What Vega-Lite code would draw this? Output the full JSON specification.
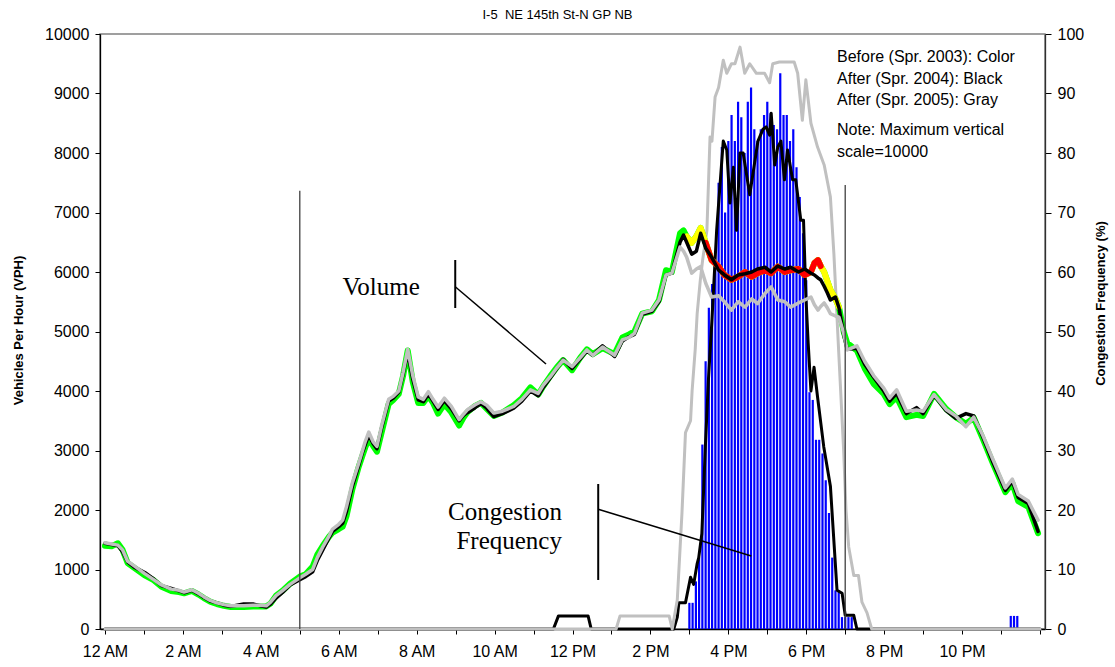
{
"$schema": "https://vega.github.io/schema/vega-lite/v6.json",
"width": 945,
"height": 595,
"autosize": {"type": "none"},
"padding": {"left": 100, "top": 34, "right": 70, "bottom": 38},
"background": "white",
"title": {"text": "I-5 \u00a0NE 145th St-N GP NB", "fontSize": 13, "font": "Liberation Sans", "fontWeight": "normal", "color": "#000", "anchor": "middle", "frame": "group", "dx": -15, "offset": 4},
"config": {
  "view": {"stroke": "#808080", "strokeWidth": 1.5},
  "axis": {"labelFont": "Liberation Sans", "titleFont": "Liberation Sans", "labelColor": "#000", "titleColor": "#000", "domainColor": "#000", "domainWidth": 1.3, "tickColor": "#000", "grid": false}
},
"datasets": {
  "vol": [
    {"t":0.0,"a":1400,"b":1440,"c":1450},
    {"t":0.17,"a":1390,"b":1420,"c":1430},
    {"t":0.33,"a":1440,"b":1400,"c":1410},
    {"t":0.45,"a":1330,"b":1300,"c":1330},
    {"t":0.58,"a":1110,"b":1130,"c":1140},
    {"t":0.75,"a":1030,"b":1040,"c":1060},
    {"t":1.02,"a":900,"b":950,"c":930},
    {"t":1.25,"a":820,"b":840,"c":830},
    {"t":1.45,"a":710,"b":730,"c":740},
    {"t":1.7,"a":640,"b":680,"c":670},
    {"t":1.9,"a":620,"b":640,"c":650},
    {"t":2.03,"a":600,"b":610,"c":620},
    {"t":2.23,"a":640,"b":650,"c":660},
    {"t":2.4,"a":580,"b":590,"c":600},
    {"t":2.54,"a":520,"b":530,"c":540},
    {"t":2.7,"a":460,"b":470,"c":480},
    {"t":2.87,"a":420,"b":440,"c":440},
    {"t":3.05,"a":390,"b":400,"c":410},
    {"t":3.23,"a":370,"b":380,"c":390},
    {"t":3.56,"a":370,"b":420,"c":390},
    {"t":3.8,"a":380,"b":420,"c":400},
    {"t":3.99,"a":380,"b":390,"c":400},
    {"t":4.14,"a":380,"b":370,"c":390},
    {"t":4.25,"a":430,"b":420,"c":450},
    {"t":4.39,"a":560,"b":520,"c":560},
    {"t":4.55,"a":640,"b":610,"c":640},
    {"t":4.75,"a":760,"b":740,"c":750},
    {"t":5.0,"a":880,"b":830,"c":860},
    {"t":5.15,"a":920,"b":880,"c":920},
    {"t":5.33,"a":1050,"b":960,"c":1000},
    {"t":5.45,"a":1250,"b":1150,"c":1200},
    {"t":5.59,"a":1400,"b":1330,"c":1380},
    {"t":5.75,"a":1550,"b":1530,"c":1560},
    {"t":5.84,"a":1620,"b":1640,"c":1680},
    {"t":6.0,"a":1680,"b":1720,"c":1760},
    {"t":6.1,"a":1720,"b":1780,"c":1830},
    {"t":6.2,"a":1900,"b":1980,"c":2060},
    {"t":6.35,"a":2350,"b":2400,"c":2460},
    {"t":6.5,"a":2700,"b":2720,"c":2760},
    {"t":6.6,"a":2900,"b":2950,"c":2980},
    {"t":6.68,"a":3050,"b":3100,"c":3150},
    {"t":6.77,"a":3200,"b":3260,"c":3310},
    {"t":6.88,"a":3080,"b":3120,"c":3150},
    {"t":6.98,"a":2980,"b":3030,"c":3070},
    {"t":7.1,"a":3300,"b":3380,"c":3420},
    {"t":7.28,"a":3780,"b":3830,"c":3860},
    {"t":7.4,"a":3850,"b":3880,"c":3910},
    {"t":7.54,"a":3950,"b":3980,"c":4000},
    {"t":7.65,"a":4250,"b":4280,"c":4310},
    {"t":7.77,"a":4680,"b":4650,"c":4700},
    {"t":7.9,"a":4150,"b":4200,"c":4260},
    {"t":8.04,"a":3800,"b":3850,"c":3900},
    {"t":8.17,"a":3800,"b":3820,"c":3860},
    {"t":8.3,"a":3920,"b":3950,"c":3990},
    {"t":8.42,"a":3800,"b":3830,"c":3860},
    {"t":8.55,"a":3620,"b":3690,"c":3730},
    {"t":8.71,"a":3780,"b":3840,"c":3880},
    {"t":8.89,"a":3640,"b":3700,"c":3740},
    {"t":9.09,"a":3420,"b":3500,"c":3520},
    {"t":9.2,"a":3550,"b":3590,"c":3610},
    {"t":9.31,"a":3650,"b":3640,"c":3690},
    {"t":9.5,"a":3750,"b":3720,"c":3770},
    {"t":9.65,"a":3800,"b":3790,"c":3820},
    {"t":9.8,"a":3700,"b":3710,"c":3760},
    {"t":9.98,"a":3580,"b":3570,"c":3630},
    {"t":10.2,"a":3640,"b":3620,"c":3660},
    {"t":10.49,"a":3760,"b":3710,"c":3740},
    {"t":10.7,"a":3880,"b":3830,"c":3860},
    {"t":10.92,"a":4060,"b":4000,"c":4020},
    {"t":11.12,"a":3940,"b":3920,"c":3960},
    {"t":11.25,"a":4080,"b":4060,"c":4100},
    {"t":11.43,"a":4250,"b":4220,"c":4240},
    {"t":11.6,"a":4400,"b":4380,"c":4390},
    {"t":11.76,"a":4520,"b":4530,"c":4520},
    {"t":11.99,"a":4350,"b":4380,"c":4410},
    {"t":12.2,"a":4560,"b":4540,"c":4560},
    {"t":12.37,"a":4700,"b":4680,"c":4690},
    {"t":12.52,"a":4620,"b":4600,"c":4600},
    {"t":12.77,"a":4720,"b":4760,"c":4740},
    {"t":13.08,"a":4620,"b":4580,"c":4600},
    {"t":13.28,"a":4900,"b":4840,"c":4860},
    {"t":13.45,"a":4950,"b":4910,"c":4900},
    {"t":13.59,"a":5000,"b":4950,"c":4970},
    {"t":13.79,"a":5300,"b":5290,"c":5310},
    {"t":14.04,"a":5340,"b":5340,"c":5360},
    {"t":14.22,"a":5530,"b":5500,"c":5530},
    {"t":14.4,"a":6030,"b":5950,"c":5950},
    {"t":14.55,"a":6000,"b":5980,"c":5980},
    {"t":14.76,"a":6650,"b":6500,"c":6420},
    {"t":14.85,"a":6700,"b":6620,"c":6350},
    {"t":14.93,"a":6600,"b":6500,"c":6250},
    {"t":15.06,"a":6490,"b":6300,"c":5980},
    {"t":15.18,"a":6600,"b":6350,"c":6050},
    {"t":15.29,"a":6740,"b":6650,"c":6090},
    {"t":15.42,"a":6490,"b":6400,"c":5810},
    {"t":15.57,"a":6200,"b":6250,"c":5580},
    {"t":15.75,"a":6090,"b":6030,"c":5600},
    {"t":15.9,"a":5950,"b":5950,"c":5500},
    {"t":16.08,"a":5870,"b":5870,"c":5360},
    {"t":16.25,"a":5920,"b":5950,"c":5500},
    {"t":16.43,"a":6000,"b":5970,"c":5410},
    {"t":16.6,"a":5920,"b":6000,"c":5550},
    {"t":16.75,"a":5980,"b":6050,"c":5470},
    {"t":16.94,"a":6030,"b":6080,"c":5640},
    {"t":17.1,"a":5980,"b":6000,"c":5750},
    {"t":17.27,"a":6090,"b":6100,"c":5530},
    {"t":17.45,"a":6000,"b":6050,"c":5500},
    {"t":17.6,"a":6030,"b":6080,"c":5410},
    {"t":17.8,"a":6050,"b":6000,"c":5480},
    {"t":17.96,"a":5950,"b":6050,"c":5530},
    {"t":18.12,"a":6000,"b":5980,"c":5580},
    {"t":18.21,"a":6150,"b":5950,"c":5450},
    {"t":18.3,"a":6200,"b":5900,"c":5360},
    {"t":18.37,"a":6100,"b":5870,"c":5420},
    {"t":18.46,"a":6000,"b":5760,"c":5480},
    {"t":18.54,"a":5850,"b":5650,"c":5400},
    {"t":18.62,"a":5700,"b":5530,"c":5300},
    {"t":18.75,"a":5550,"b":5580,"c":5260},
    {"t":18.84,"a":5410,"b":5400,"c":5240},
    {"t":18.96,"a":5000,"b":4950,"c":4970},
    {"t":19.05,"a":4810,"b":4700,"c":4690},
    {"t":19.3,"a":4680,"b":4720,"c":4760},
    {"t":19.5,"a":4380,"b":4450,"c":4500},
    {"t":19.73,"a":4120,"b":4230,"c":4260},
    {"t":19.99,"a":3950,"b":4000,"c":4050},
    {"t":20.14,"a":3780,"b":3830,"c":3880},
    {"t":20.32,"a":3900,"b":3960,"c":4020},
    {"t":20.57,"a":3560,"b":3620,"c":3660},
    {"t":20.83,"a":3600,"b":3720,"c":3680},
    {"t":21.0,"a":3580,"b":3620,"c":3660},
    {"t":21.28,"a":3950,"b":3930,"c":3940},
    {"t":21.59,"a":3700,"b":3670,"c":3690},
    {"t":21.84,"a":3560,"b":3540,"c":3580},
    {"t":22.1,"a":3450,"b":3620,"c":3400},
    {"t":22.3,"a":3550,"b":3580,"c":3560},
    {"t":22.53,"a":3200,"b":3230,"c":3260},
    {"t":22.78,"a":2800,"b":2820,"c":2870},
    {"t":23.11,"a":2300,"b":2330,"c":2370},
    {"t":23.29,"a":2450,"b":2480,"c":2520},
    {"t":23.44,"a":2150,"b":2210,"c":2260},
    {"t":23.7,"a":2050,"b":2110,"c":2150},
    {"t":23.95,"a":1610,"b":1640,"c":1830}
  ],
  "bars03": [
    {"t":15.0,"p":4.4},{"t":15.083,"p":4.4},{"t":15.167,"p":8},{"t":15.25,"p":12},
    {"t":15.333,"p":31},{"t":15.417,"p":45},{"t":15.5,"p":54},{"t":15.583,"p":58},
    {"t":15.667,"p":62},{"t":15.75,"p":75},{"t":15.833,"p":81},{"t":15.917,"p":70},
    {"t":16.0,"p":82},{"t":16.083,"p":86.4},{"t":16.167,"p":82},{"t":16.25,"p":88.6},
    {"t":16.333,"p":86},{"t":16.417,"p":80},{"t":16.5,"p":88.6},{"t":16.583,"p":91},
    {"t":16.667,"p":84},{"t":16.75,"p":82},{"t":16.833,"p":84},{"t":16.917,"p":86.4},
    {"t":17.0,"p":88.6},{"t":17.083,"p":86.7},{"t":17.167,"p":84.7},{"t":17.25,"p":84},
    {"t":17.333,"p":93.4},{"t":17.417,"p":86.4},{"t":17.5,"p":86.4},{"t":17.583,"p":82},
    {"t":17.667,"p":84},{"t":17.75,"p":77.6},{"t":17.833,"p":72.6},{"t":17.917,"p":66.5},
    {"t":18.0,"p":58.6},{"t":18.083,"p":39.8},{"t":18.167,"p":38.5},{"t":18.25,"p":31.8},
    {"t":18.333,"p":31.8},{"t":18.417,"p":29.5},{"t":18.5,"p":25},{"t":18.583,"p":19.5},
    {"t":18.667,"p":12},{"t":18.75,"p":6.5},{"t":18.833,"p":6.5},{"t":18.917,"p":2},
    {"t":19.0,"p":2},{"t":19.083,"p":2},{"t":19.167,"p":2},
    {"t":23.25,"p":2.2},{"t":23.333,"p":2.2},{"t":23.417,"p":2.2}
  ],
  "cong04": [
    {"t":0,"p":0},{"t":11.51,"p":0},{"t":11.64,"p":2.2},{"t":12.4,"p":2.2},{"t":12.48,"p":0},
    {"t":14.6,"p":0},{"t":14.69,"p":2},{"t":14.73,"p":4.4},{"t":14.9,"p":4.4},{"t":15.03,"p":8.7},
    {"t":15.11,"p":7.5},{"t":15.2,"p":11},{"t":15.24,"p":12},{"t":15.32,"p":16},{"t":15.41,"p":30.6},
    {"t":15.49,"p":42},{"t":15.58,"p":52},{"t":15.7,"p":67},{"t":15.87,"p":82},{"t":15.96,"p":80.5},
    {"t":16.04,"p":71.6},{"t":16.13,"p":77.6},{"t":16.21,"p":67},{"t":16.3,"p":80},{"t":16.38,"p":80},
    {"t":16.55,"p":73},{"t":16.76,"p":82},{"t":16.89,"p":84},{"t":16.97,"p":84.4},{"t":17.06,"p":83},
    {"t":17.1,"p":86.7},{"t":17.19,"p":78},{"t":17.27,"p":81},{"t":17.35,"p":82},{"t":17.44,"p":75.5},
    {"t":17.52,"p":80.5},{"t":17.65,"p":75.5},{"t":17.73,"p":75.5},{"t":17.86,"p":68.7},{"t":17.93,"p":68.7},
    {"t":17.99,"p":56},{"t":18.05,"p":48},{"t":18.12,"p":40},{"t":18.2,"p":44},{"t":18.29,"p":39},
    {"t":18.45,"p":30.6},{"t":18.62,"p":24},{"t":18.79,"p":6.5},{"t":18.92,"p":6},{"t":19.0,"p":2.3},
    {"t":19.22,"p":2.3},{"t":19.3,"p":0},{"t":24,"p":0}
  ],
  "cong05": [
    {"t":0,"p":0},{"t":13.12,"p":0},{"t":13.22,"p":2.2},{"t":14.48,"p":2.2},{"t":14.56,"p":0},
    {"t":14.69,"p":4.9},{"t":14.81,"p":19.5},{"t":14.9,"p":33},{"t":15.03,"p":35},{"t":15.07,"p":40},
    {"t":15.15,"p":47},{"t":15.2,"p":53},{"t":15.28,"p":58.6},{"t":15.34,"p":62},{"t":15.45,"p":67},
    {"t":15.53,"p":82.7},{"t":15.58,"p":82},{"t":15.66,"p":89.4},{"t":15.75,"p":91},{"t":15.87,"p":95.6},
    {"t":15.96,"p":93.4},{"t":16.08,"p":95},{"t":16.17,"p":95},{"t":16.3,"p":97.8},{"t":16.42,"p":93.4},
    {"t":16.55,"p":95},{"t":16.72,"p":93.4},{"t":16.93,"p":93.4},{"t":17.06,"p":91.8},{"t":17.14,"p":95},
    {"t":17.31,"p":95.3},{"t":17.69,"p":95.3},{"t":17.78,"p":93.4},{"t":17.9,"p":85.5},{"t":17.99,"p":92.3},
    {"t":18.12,"p":85},{"t":18.29,"p":81},{"t":18.46,"p":78},{"t":18.62,"p":72.6},{"t":18.71,"p":63},
    {"t":18.83,"p":47},{"t":18.96,"p":30},{"t":19.02,"p":20},{"t":19.09,"p":13.8},{"t":19.22,"p":9},
    {"t":19.34,"p":9},{"t":19.43,"p":4.5},{"t":19.56,"p":2.7},{"t":19.68,"p":0},{"t":24,"p":0}
  ],
  "refs": [{"t":5,"lo":0,"top":7366},{"t":19,"lo":0,"top":7462}],
  "brackV": [{"t":8.99,"v1":6202,"v2":5395},{"t":12.66,"v1":2437,"v2":824}],
  "brackD": [{"t":8.99,"v1":5753,"t2":11.32,"v2":4454},{"t":12.66,"v1":2012,"t2":16.59,"v2":1227}],
  "serif": [{"label":"Volume","t":8.08,"v":5613},{"label":"Congestion","t":11.73,"v":1832},{"label":"Frequency","t":11.73,"v":1345}],
  "notes": [
    {"label":"Before (Spr. 2003): Color","t":18.79,"v":9524},
    {"label":"After (Spr. 2004): Black","t":18.79,"v":9155},
    {"label":"After (Spr. 2005): Gray","t":18.79,"v":8807},
    {"label":"Note: Maximum vertical","t":18.79,"v":8303},
    {"label":"scale=10000","t":18.79,"v":7938}
  ]
},
"encoding": {
  "x": {"field": "t", "type": "quantitative", "scale": {"domain": [0, 24], "nice": false, "zero": false},
        "axis": {"values": [0,1,2,3,4,5,6,7,8,9,10,11,12,13,14,15,16,17,18,19,20,21,22,23,24], "title": null, "tickSize": 5, "labelPadding": 9, "labelFontSize": 16, "labelOverlap": false, "labelFlush": false,
                 "labelExpr": "datum.value % 2 != 0 || datum.value >= 24 ? '' : ((datum.value % 12 == 0 ? 12 : datum.value % 12) + (datum.value < 12 ? ' AM' : ' PM'))"}}
},
"layer": [
  {
    "encoding": {
      "y": {"field": "p", "type": "quantitative", "scale": {"domain": [0, 100], "nice": false},
            "axis": {"orient": "right", "values": [0,10,20,30,40,50,60,70,80,90,100], "format": "d", "tickSize": 6, "labelPadding": 6, "labelFontSize": 16,
                     "title": "Congestion Frequency (%)", "titleFontSize": 13, "titleFontWeight": "bold", "titleAngle": 270,
                     "titleX": 55, "titleY": 269, "titleAlign": "center", "titleBaseline": "middle", "domainColor": "#303030"}}
    },
    "layer": [
      {
        "data": {"name": "bars03"},
        "mark": {"type": "bar", "color": "#0000ff", "size": 2.2, "orient": "vertical"}
      },
      {
        "data": {"name": "cong04"},
        "mark": {"type": "line", "color": "#000000", "strokeWidth": 3, "strokeJoin": "round", "strokeCap": "round"}
      },
      {
        "data": {"name": "cong05"},
        "mark": {"type": "line", "color": "#c0c0c0", "strokeWidth": 3, "strokeJoin": "round", "strokeCap": "round"}
      }
    ]
  },
  {
    "layer": [
      {
        "data": {"name": "vol"},
        "mark": {"type": "line", "color": "#00ff00", "strokeWidth": 6, "strokeJoin": "round", "strokeCap": "round"},
        "encoding": {
          "y": {"field": "a", "type": "quantitative", "scale": {"domain": [0, 10000], "nice": false},
                "axis": {"orient": "left", "values": [0,1000,2000,3000,4000,5000,6000,7000,8000,9000,10000], "format": "d", "tickSize": 5, "labelPadding": 6, "labelFontSize": 16,
                         "title": "Vehicles Per Hour (VPH)", "titleFontSize": 13, "titleFontWeight": "bold", "titleAngle": 270,
                         "titleX": -82, "titleY": 296, "titleAlign": "center", "titleBaseline": "middle"}}
        }
      },
      {
        "data": {"name": "vol"},
        "transform": [{"filter": "datum.t >= 14.93 && datum.t <= 18.84"}],
        "mark": {"type": "line", "color": "#ffff00", "strokeWidth": 6, "strokeJoin": "round", "strokeCap": "round"},
        "encoding": {"y": {"field": "a", "type": "quantitative"}}
      },
      {
        "data": {"name": "vol"},
        "transform": [{"filter": "datum.t >= 15.42 && datum.t <= 18.37"}],
        "mark": {"type": "line", "color": "#ff0000", "strokeWidth": 6, "strokeJoin": "round", "strokeCap": "round"},
        "encoding": {"y": {"field": "a", "type": "quantitative"}}
      },
      {
        "data": {"name": "vol"},
        "mark": {"type": "line", "color": "#000000", "strokeWidth": 3.5, "strokeJoin": "round", "strokeCap": "round"},
        "encoding": {"y": {"field": "b", "type": "quantitative"}}
      },
      {
        "data": {"name": "vol"},
        "mark": {"type": "line", "color": "#c0c0c0", "strokeWidth": 3.5, "strokeJoin": "round", "strokeCap": "round"},
        "encoding": {"y": {"field": "c", "type": "quantitative"}}
      },
      {
        "data": {"name": "refs"},
        "mark": {"type": "rule", "color": "#404040", "strokeWidth": 1.3},
        "encoding": {"y": {"field": "lo", "type": "quantitative"}, "y2": {"field": "top"}}
      },
      {
        "data": {"name": "brackV"},
        "mark": {"type": "rule", "color": "#000000", "strokeWidth": 2},
        "encoding": {"y": {"field": "v1", "type": "quantitative"}, "y2": {"field": "v2"}}
      },
      {
        "data": {"name": "brackD"},
        "mark": {"type": "rule", "color": "#000000", "strokeWidth": 1.5},
        "encoding": {"x2": {"field": "t2"}, "y": {"field": "v1", "type": "quantitative"}, "y2": {"field": "v2"}}
      },
      {
        "data": {"name": "serif"},
        "mark": {"type": "text", "font": "Liberation Serif", "fontSize": 25, "align": "right", "baseline": "alphabetic", "color": "#000"},
        "encoding": {"y": {"field": "v", "type": "quantitative"}, "text": {"field": "label", "type": "nominal"}}
      },
      {
        "data": {"name": "notes"},
        "mark": {"type": "text", "font": "Liberation Sans", "fontSize": 16, "align": "left", "baseline": "alphabetic", "color": "#000"},
        "encoding": {"y": {"field": "v", "type": "quantitative"}, "text": {"field": "label", "type": "nominal"}}
      }
    ]
  }
],
"resolve": {"scale": {"y": "independent"}}
}
